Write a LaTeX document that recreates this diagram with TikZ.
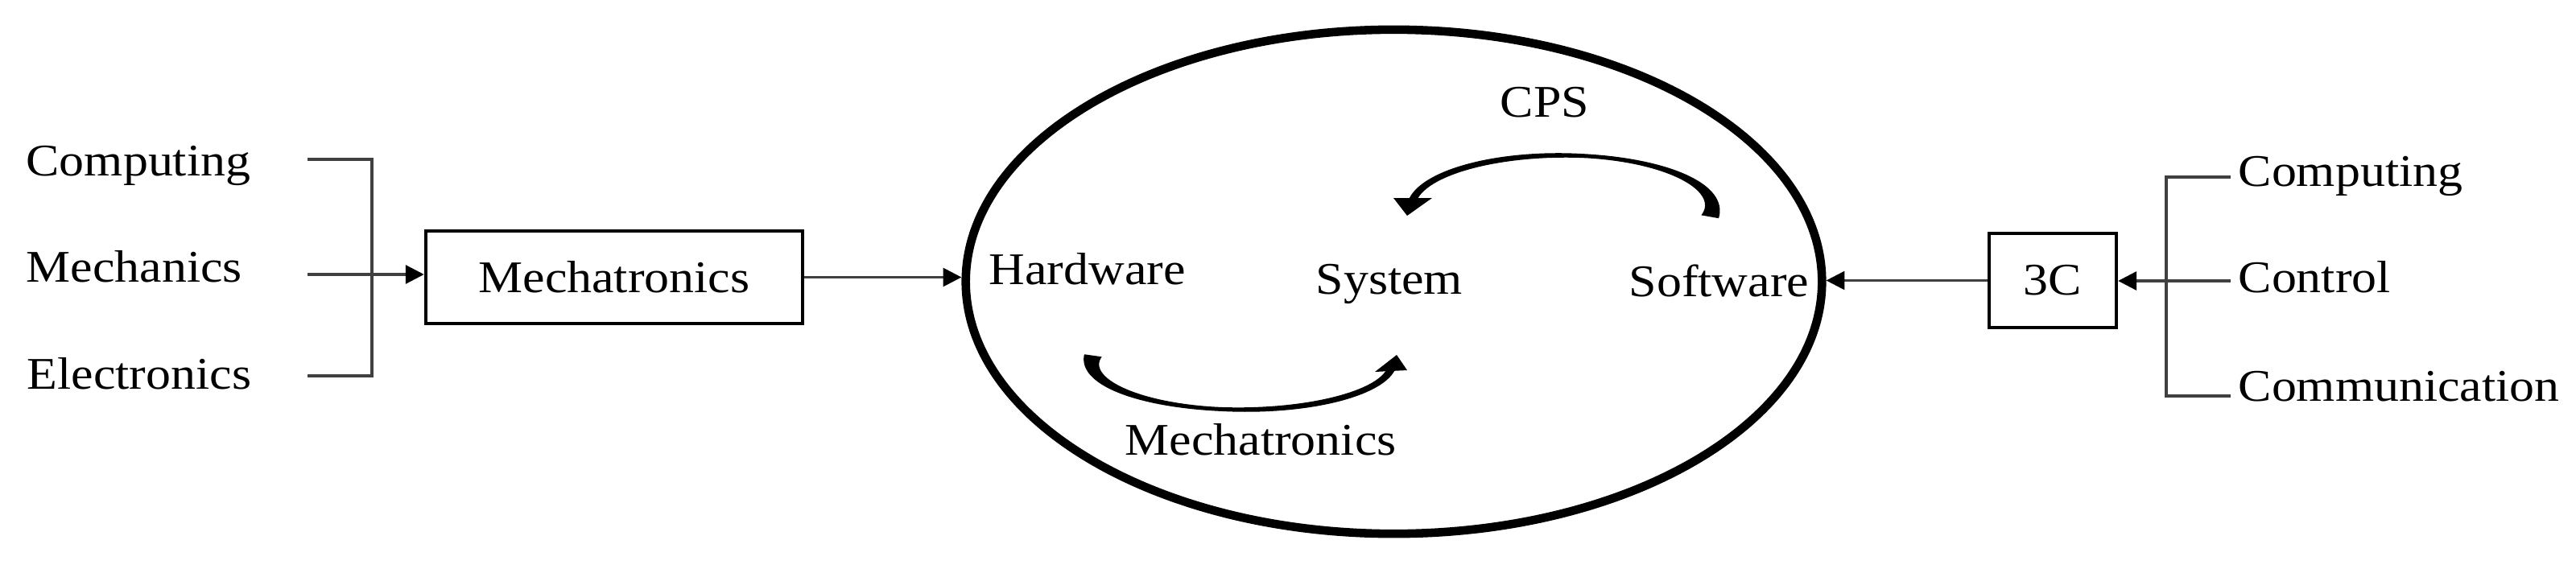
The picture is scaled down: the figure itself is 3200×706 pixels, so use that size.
\documentclass[tikz,border=0pt]{standalone}
\usepackage{fontspec}
\setmainfont{Liberation Serif}[FakeStretch=1.1]
\usetikzlibrary{arrows.meta,shapes.geometric}
\newcommand{\bentarrowbody}[7]{%
\fill plot[domain=#5:#6, samples=90, variable=\t]
 ({#1+(#3+0.5*wid((\t-(#5))/((#6)-(#5))))*cos(\t)}, {#2+(#7)*(#4+0.5*wid((\t-(#5))/((#6)-(#5))))*sin(\t)})
 -- plot[domain=#6:#5, samples=90, variable=\t]
 ({#1+(#3-0.5*wid((\t-(#5))/((#6)-(#5))))*cos(\t)}, {#2+(#7)*(#4-0.5*wid((\t-(#5))/((#6)-(#5))))*sin(\t)}) -- cycle;}
\begin{document}
\begin{tikzpicture}[x=0.01cm, y=-0.01cm,
  declare function={wid(\u)=5+17*max(0,1-2*\u)*max(0,1-2*\u)+5*max(0,2*\u-1);},
  lbl/.style={inner sep=0pt, anchor=base west, font=\fontsize{16}{19}\selectfont},
  boxnode/.style={draw=black, line width=1.2pt, inner sep=0pt, font=\fontsize{16}{19}\selectfont},
  thinline/.style={draw=black!75, line width=0.9pt},
  arr/.style={thinline, -{Triangle[length=6.5pt,width=6.5pt,black]}}]
\useasboundingbox (0,0) rectangle (3200,706);

% left inputs
\node[lbl] (lcomp) at (32,218) {Computing};
\node[lbl] (lmech) at (32,350) {Mechanics};
\node[lbl] (lelec) at (33,483) {Electronics};
\coordinate (la) at (382,198);
\coordinate (lb) at (382,341);
\coordinate (lc) at (382,467);
\coordinate (lv1) at (462,198);
\coordinate (lv2) at (462,467);

% Mechatronics box
\node[boxnode, minimum width=4.68cm, minimum height=1.15cm] (mbox) at (763,344.5) {Mechatronics};

% central ellipse
\node[draw, ellipse, line width=3pt, minimum width=10.63cm, minimum height=6.26cm, inner sep=0pt] (ell) at (1731.5,350) {};

% inner texts
\node[lbl] (hw) at (1228,353) {Hardware};
\node[lbl] (sys) at (1634,365) {System};
\node[lbl] (sw) at (2023,368) {Software};
\node[lbl] (cps) at (1863,145) {CPS};
\node[lbl] (imech) at (1397,565) {Mechatronics};

% 3C box
\node[boxnode, minimum width=1.58cm, minimum height=1.17cm] (c3) at (2550,348.5) {3C};

% right inputs
\node[lbl] (rcomp) at (2780,231) {Computing};
\node[lbl] (rctrl) at (2780,363) {Control};
\node[lbl] (rcomm) at (2780,498) {Communication};
\coordinate (ra) at (2771,220);
\coordinate (rb) at (2771,349);
\coordinate (rc) at (2771,492);
\coordinate (rv1) at (2691,220);
\coordinate (rv2) at (2691,492);

% left bracket and arrows
\draw[thinline] (la) -- (lv1) -- (lv2) -- (lc);
\draw[arr] (lb) -- (lb -| mbox.west);
\draw[arr] (mbox.east) -- (mbox.east -| ell.west);

% right bracket and arrows
\draw[thinline] (ra) -- (rv1) -- (rv2) -- (rc);
\draw[arr] (rb) -- (rb -| c3.east);
\draw[arr] (c3.west) -- (c3.west -| ell.east);

% curved CPS arrow (Software -> System)
\bentarrowbody{1940}{258}{187}{65}{-10}{171.6}{-1}
\fill (1731,246) -- (1779,246) -- (1748,268) -- cycle;

% curved Mechatronics arrow (Hardware -> System)
\bentarrowbody{1543}{450}{187}{59}{188}{8.3}{1}
\fill (1748,460) -- (1708,462) -- (1735,441) -- cycle;
\end{tikzpicture}
\end{document}
